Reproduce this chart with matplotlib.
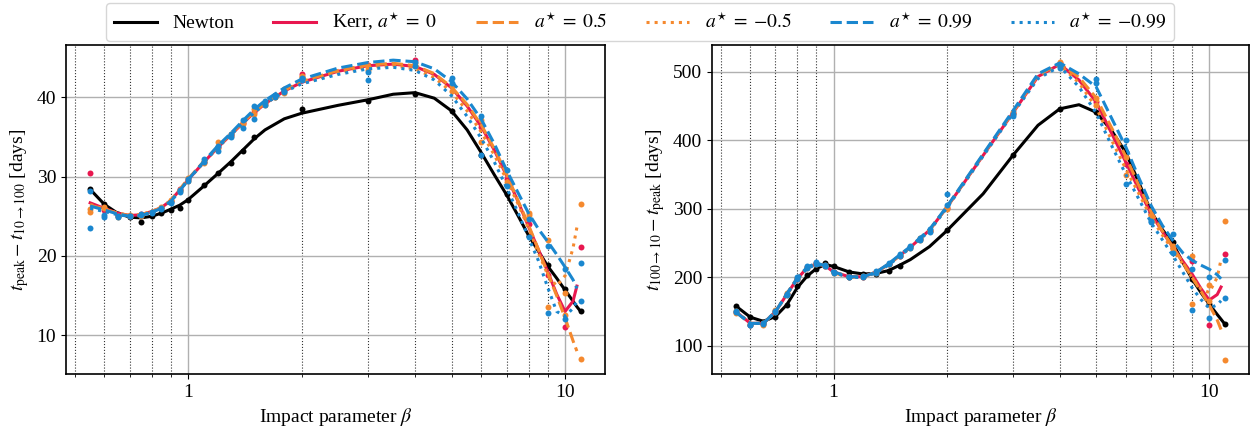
import matplotlib
matplotlib.use("Agg")
import matplotlib.pyplot as plt
import matplotlib.ticker as mticker
import numpy as np

plt.rcParams["font.family"] = ["Liberation Serif", "DejaVu Serif"]
plt.rcParams["mathtext.fontset"] = "stix"
plt.rcParams["font.size"] = 14

nan = np.nan

# impact parameters of the simulations
beta_newton = [0.55, 0.6, 0.65, 0.7, 0.75, 0.8, 0.85, 0.9, 0.95, 1.0, 1.1, 1.2, 1.3, 1.4, 1.5,
               2.0, 3.0, 4.0, 5.0, 6.0, 7.0, 8.0, 9.0, 10.0, 11.0]
beta_kerr = [0.55, 0.6, 0.65, 0.7, 0.75, 0.8, 0.85, 0.9, 0.95, 1.0, 1.1, 1.2, 1.3, 1.4, 1.5,
             1.6, 1.7, 1.8, 2.0, 3.0, 4.0, 5.0, 6.0, 7.0, 8.0, 9.0, 10.0, 11.0]
# beta values where the fitted curves were read
beta_fit = [0.55, 0.6, 0.65, 0.7, 0.75, 0.8, 0.85, 0.9, 0.95, 1.0, 1.1, 1.2, 1.3, 1.4, 1.5,
            1.6, 1.8, 2.0, 2.5, 3.0, 3.5, 4.0, 4.5, 5.0, 5.5, 6.0, 6.5, 7.0, 7.5, 8.0,
            8.5, 9.0, 9.5, 10.0, 10.5, 10.75, 11.0]

# ---- left panel: t_peak - t_10->100 [days] ----
rise_newton = [28.4, 26.5, 25.3, 24.9, 24.3, 25.0, 25.4, 25.8, 26.1, 27.0, 29.0, 30.5, 31.7, 33.2, 35.0,
               38.6, 39.6, 40.4, 38.3, 32.7, 27.8, 22.5, 18.8, 15.8, 13.0]
rise_kerr0 = [30.5, 25.8, 25.0, 25.0, 25.3, 25.5, 26.1, 26.9, 28.4, 29.7, 31.9, 33.7, 35.3, 36.8, 38.2,
              39.3, 40.2, 40.9, 42.9, 44.1, 44.7, 41.6, 36.3, 29.7, 24.0, 17.6, 11.1, 21.1]
rise_p05 = [25.6, 26.2, 25.0, 25.1, 25.2, 25.6, 26.0, 26.9, 28.3, 29.8, 32.0, 34.4, 35.4, 36.9, 38.6,
            39.4, 40.1, 41.0, 42.6, 43.8, 44.4, 41.4, 37.1, 29.3, 25.4, 13.6, 12.5, 7.0]
rise_m05 = [25.9, 26.0, 24.9, 25.2, 25.1, 25.5, 26.2, 27.0, 28.2, 29.5, 31.7, 33.6, 35.1, 36.6, 37.9,
            39.0, 40.0, 40.6, 42.7, 43.5, 44.0, 40.8, 34.4, 29.0, 25.2, 22.0, 15.3, 26.6]
rise_p099 = [28.2, 24.9, 25.1, 25.0, 25.3, 25.4, 25.9, 26.7, 28.1, 29.5, 32.2, 33.9, 35.4, 37.2, 38.9,
             39.6, 40.3, 40.8, 42.5, 43.2, 44.5, 42.5, 37.6, 30.8, 24.6, 21.2, 18.4, 19.1]
rise_m099 = [23.5, 25.2, 24.9, 25.0, 25.2, 25.6, 26.0, 26.8, 28.3, 29.7, 31.8, 33.2, 35.0, 36.2, 37.3,
             39.1, 40.0, 40.7, 42.2, 42.2, 44.0, 41.8, 32.7, 28.8, 22.4, 12.8, 12.0, 14.3]

rise_fit_newton = [28.4, 26.5, 25.4, 24.9, 24.8, 25.0, 25.4, 25.9, 26.4, 27.1, 28.8, 30.4, 31.9, 33.4, 34.8,
                   35.9, 37.3, 38.0, 39.0, 39.7, 40.4, 40.6, 39.9, 38.3, 35.9, 33.0, 30.2, 27.7, 25.1, 22.6,
                   20.6, 18.7, 17.2, 15.7, 14.3, 13.6, 13.0]
rise_fit_kerr0 = [26.7, 26.0, 25.4, 25.1, 25.2, 25.6, 26.1, 27.0, 28.3, 29.6, 31.8, 33.7, 35.3, 36.8, 38.1,
                  39.2, 40.8, 41.9, 43.3, 44.0, 44.2, 43.9, 42.9, 41.2, 38.9, 36.3, 33.3, 30.1, 26.9, 23.7,
                  20.8, 18.0, 15.2, 13.0, 14.3, 16.2, nan]
rise_fit_p05 = [26.4, 25.9, 25.4, 25.1, 25.2, 25.6, 26.1, 27.0, 28.4, 29.7, 31.9, 33.8, 35.4, 36.9, 38.2,
                39.3, 40.9, 42.0, 43.4, 44.1, 44.3, 44.0, 43.0, 41.3, 39.1, 36.5, 33.5, 30.3, 27.0, 23.9,
                20.8, 17.8, 15.0, 12.2, 9.3, 8.0, nan]
rise_fit_m05 = [26.5, 25.9, 25.4, 25.1, 25.2, 25.6, 26.1, 27.0, 28.3, 29.6, 31.8, 33.7, 35.3, 36.8, 38.1,
                39.2, 40.8, 41.8, 43.1, 43.8, 44.0, 43.6, 42.5, 40.7, 38.3, 35.6, 32.7, 29.6, 26.6, 23.5,
                20.4, 17.6, 16.2, 17.5, 21.0, 23.6, nan]
rise_fit_p099 = [26.3, 25.8, 25.3, 25.0, 25.1, 25.5, 26.0, 26.9, 28.2, 29.6, 31.9, 33.9, 35.5, 37.1, 38.5,
                 39.6, 41.2, 42.3, 43.7, 44.4, 44.7, 44.5, 43.6, 42.0, 39.8, 37.2, 34.1, 30.8, 28.0, 25.4,
                 23.4, 21.8, 20.2, 18.6, 17.0, 15.9, nan]
rise_fit_m099 = [26.0, 25.6, 25.2, 25.0, 25.1, 25.5, 26.0, 26.9, 28.2, 29.6, 31.8, 33.7, 35.3, 36.8, 38.1,
                 39.2, 40.7, 41.7, 42.9, 43.6, 43.8, 43.4, 42.2, 40.2, 37.6, 34.8, 31.8, 28.6, 25.5, 22.3,
                 19.4, 16.0, 13.0, 12.4, 13.4, 14.3, nan]

# ---- right panel: t_100->10 - t_peak [days] ----
decay_newton = [158, 142, 135, 143, 160, 187, 203, 213, 221, 216, 208, 205, 205, 210, 217,
                269, 378, 446, 442, 383, 296, 252, 198, 161, 132]
decay_kerr0 = [150, 131, 132, 151, 176, 198, 215, 221, 217, 208, 201, 201, 208, 220, 232,
               244, 256, 268, 302, 440, 513, 456, 366, 293, 244, 224, 130, 234]
decay_p05 = [148, 130, 133, 150, 177, 199, 214, 220, 217, 207, 200, 201, 207, 219, 231,
             243, 255, 268, 300, 438, 515, 462, 376, 286, 246, 161, 189, 80]
decay_m05 = [151, 132, 131, 152, 175, 197, 215, 221, 218, 208, 201, 202, 208, 220, 233,
             245, 257, 269, 303, 441, 510, 452, 349, 290, 242, 231, 165, 283]
decay_p099 = [149, 131, 133, 150, 176, 200, 216, 222, 218, 208, 200, 202, 209, 221, 234,
              246, 258, 270, 322, 439, 508, 489, 400, 282, 264, 213, 200, 225]
decay_m099 = [151, 130, 132, 151, 175, 197, 214, 219, 216, 207, 201, 200, 207, 219, 231,
              243, 255, 267, 305, 435, 505, 483, 337, 281, 236, 152, 141, 170]

decay_fit_newton = [158, 142, 136, 143, 160, 185, 202, 213, 219, 216, 208, 205, 206, 210, 218,
                    226, 245, 268, 322, 378, 422, 446, 452, 441, 414, 382, 338, 296, 270, 250,
                    222, 198, 178, 161, 146, 139, 132]
decay_fit_kerr0 = [150, 133, 133, 150, 175, 198, 214, 220, 217, 208, 201, 201, 208, 219, 232,
                   244, 269, 302, 378, 440, 493, 511, 488, 456, 410, 368, 328, 293, 267, 244,
                   224, 205, 184, 167, 175, 186, nan]
decay_fit_p05 = [149, 133, 133, 150, 176, 199, 214, 220, 217, 207, 200, 201, 208, 219, 232,
                 244, 269, 302, 379, 441, 495, 512, 492, 462, 418, 376, 334, 296, 268, 244,
                 222, 200, 180, 160, 138, 124, nan]
decay_fit_m05 = [150, 133, 133, 150, 175, 197, 214, 220, 217, 208, 201, 201, 208, 219, 232,
                 244, 269, 302, 378, 440, 492, 510, 484, 448, 400, 358, 322, 288, 262, 240,
                 220, 200, 183, 178, 200, 226, nan]
decay_fit_p099 = [149, 133, 133, 150, 176, 199, 215, 221, 217, 208, 201, 201, 208, 220, 233,
                  245, 270, 303, 380, 443, 497, 513, 497, 478, 432, 390, 345, 305, 276, 254,
                  236, 225, 218, 212, 204, 198, nan]
decay_fit_m099 = [150, 133, 133, 150, 175, 197, 213, 219, 216, 207, 200, 200, 207, 218, 231,
                  243, 268, 301, 377, 439, 490, 508, 478, 440, 392, 350, 314, 280, 255, 232,
                  208, 185, 168, 155, 160, 166, nan]

labels = ["Newton", r"Kerr, $a^{\star}\;=\;0$", r"$a^{\star}\;=\;0.5$", r"$a^{\star}\;=\;{-}0.5$",
          r"$a^{\star}\;=\;0.99$", r"$a^{\star}\;=\;{-}0.99$"]
colors = ["black", "#e8174f", "#f5892e", "#f5892e", "#1a87cf", "#1a87cf"]
styles = ["-", "-", "--", ":", "--", ":"]

left_pts = [rise_newton, rise_kerr0, rise_p05, rise_m05, rise_p099, rise_m099]
left_fit = [rise_fit_newton, rise_fit_kerr0, rise_fit_p05, rise_fit_m05, rise_fit_p099, rise_fit_m099]
right_pts = [decay_newton, decay_kerr0, decay_p05, decay_m05, decay_p099, decay_m099]
right_fit = [decay_fit_newton, decay_fit_kerr0, decay_fit_p05, decay_fit_m05, decay_fit_p099, decay_fit_m099]

fig = plt.figure(figsize=(12.53, 4.36), dpi=100)
ax1 = fig.add_axes([0.0527, 0.142, 0.4302, 0.7546])
ax2 = fig.add_axes([0.5683, 0.142, 0.4286, 0.7546])


def draw(ax, pts, fits):
    handles = []
    for i in range(6):
        bx = beta_newton if i == 0 else beta_kerr
        ax.plot(bx, pts[i], "o", color=colors[i], ms=4.3, mec="none", zorder=3)
        h, = ax.plot(beta_fit, fits[i], styles[i], color=colors[i], lw=2.2, zorder=3)
        handles.append(h)
    ax.set_xscale("log")
    ax.set_xlim(0.4746, 12.77)
    ax.xaxis.set_major_formatter(mticker.FormatStrFormatter("%g"))
    ax.xaxis.set_minor_formatter(mticker.NullFormatter())
    ax.grid(True, which="major", color="#b0b0b0", lw=1.0)
    ax.grid(True, which="minor", axis="x", color="0.2", ls=":", lw=0.8)
    ax.set_xlabel(r"Impact parameter $\beta$")
    for sp in ax.spines.values():
        sp.set_linewidth(1.2)
    return handles


hs = draw(ax1, left_pts, left_fit)
ax1.set_ylim(5.1, 46.6)
ax1.set_yticks([10, 20, 30, 40])
ax1.set_ylabel(r"$t_{\rm peak} - t_{10\to100}$ [days]")

draw(ax2, right_pts, right_fit)
ax2.set_ylim(59, 539)
ax2.set_yticks([100, 200, 300, 400, 500])
ax2.set_ylabel(r"$t_{100\to10} - t_{\rm peak}$ [days]")

fig.legend(hs, labels, loc="upper center", bbox_to_anchor=(0.511, 1.015), ncol=6,
           fontsize=14, handlelength=2.2, columnspacing=2.0)

fig.savefig("out.png", dpi=100)
